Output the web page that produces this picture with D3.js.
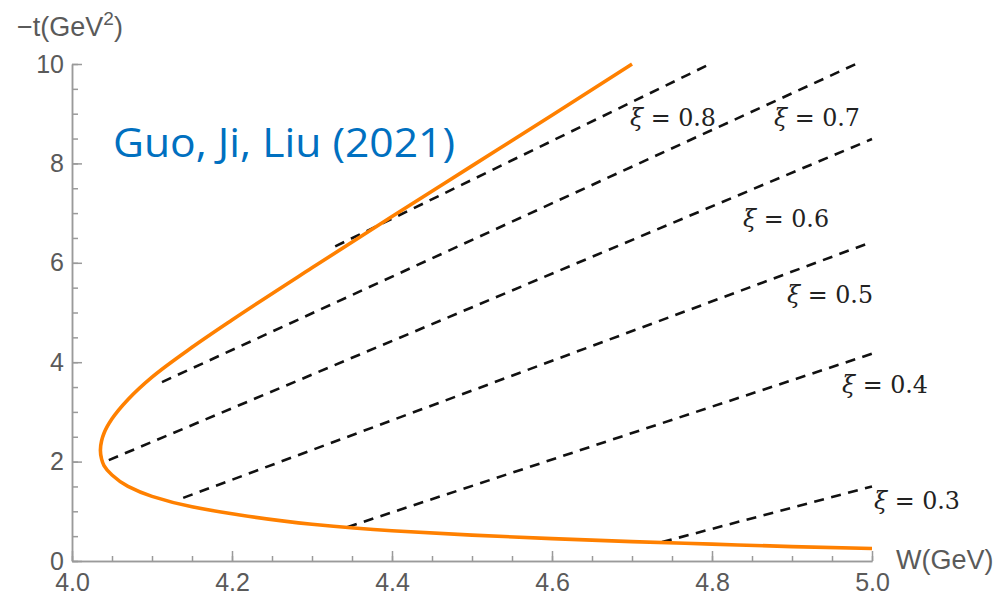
<!DOCTYPE html>
<html>
<head>
<meta charset="utf-8">
<script src="https://cdn.jsdelivr.net/npm/d3@7"></script>
<style>
  body { margin: 0; background: #fff; }
  .axis path, .axis line { stroke: #9a9a9a; stroke-width: 1.5; }
  .axis text { font-family: "Liberation Sans", Arial, sans-serif; font-size: 25px; fill: #5a5a5a; }
</style>
</head>
<body>
<div id="chart"></div>
<script>
// boundary curve, read along the orange line from bottom right, round the vertex, to top
var curveT = [0.25, 0.29, 0.34, 0.39, 0.45, 0.52, 0.61, 0.74, 0.95, 1.09, 1.30, 1.50,
              1.73, 1.92, 2.05, 2.23, 2.42, 2.57, 2.86, 3.25, 3.70, 4.30, 4.85, 5.90, 6.93, 7.95, 8.97, 10.0];
var curveW = [5.00, 4.90, 4.80, 4.70, 4.60, 4.50, 4.40, 4.30, 4.20, 4.15, 4.10, 4.07,
              4.05, 4.04, 4.037, 4.0355, 4.037, 4.04, 4.05, 4.07, 4.10, 4.15, 4.20, 4.30, 4.40, 4.50, 4.60, 4.70];

// constant-xi lines: start and end points
var xiValues = [0.8, 0.7, 0.6, 0.5, 0.4, 0.3];
var xiStartW = [4.329, 4.1125, 4.046, 4.139, 4.344, 4.7375];
var xiStartT = [6.33, 3.60, 2.03, 1.27, 0.68, 0.38];
var xiEndW = [4.7975, 4.98, 5.0, 5.0, 5.0, 5.0];
var xiEndT = [10.0, 10.0, 8.49, 6.42, 4.17, 1.50];
// label anchor (left, baseline) in data units
var xiLabelW = [4.6975, 4.8775, 4.8388, 4.8938, 4.9625, 5.0025];
var xiLabelT = [8.75, 8.75, 6.72, 5.19, 3.38, 1.04];

var xTicks = [4.0, 4.2, 4.4, 4.6, 4.8, 5.0];
var yTicks = [0, 2, 4, 6, 8, 10];

var width = 997, height = 597;

var svg = d3.select("#chart").append("svg")
  .attr("width", width)
  .attr("height", height);

var x = d3.scaleLinear().domain([4.0, 5.0]).range([72, 872]);
var y = d3.scaleLinear().domain([0, 10]).range([561, 64]);

// minor ticks first so major ones sit on top
svg.append("g")
  .attr("class", "axis")
  .attr("transform", "translate(0," + y(0) + ")")
  .call(d3.axisBottom(x).tickValues(d3.range(4.0, 5.001, 0.05)).tickSize(-5).tickSizeOuter(0).tickFormat(""));

svg.append("g")
  .attr("class", "axis")
  .attr("transform", "translate(" + x(4.0) + ",0)")
  .call(d3.axisLeft(y).tickValues(d3.range(0, 10.001, 0.5)).tickSize(-6).tickSizeOuter(0).tickFormat(""));

svg.append("g")
  .attr("class", "axis")
  .attr("transform", "translate(0," + y(0) + ")")
  .call(d3.axisBottom(x).tickValues(xTicks).tickSize(-10).tickSizeOuter(0).tickPadding(12)
    .tickFormat(d3.format(".1f")));

svg.append("g")
  .attr("class", "axis")
  .attr("transform", "translate(" + x(4.0) + ",0)")
  .call(d3.axisLeft(y).tickValues(yTicks).tickSize(-10).tickSizeOuter(0).tickPadding(8));

// dashed xi lines
var lineGen = d3.line()
  .x(function(d) { return x(d[0]); })
  .y(function(d) { return y(d[1]); });

xiValues.forEach(function(v, i) {
  svg.append("path")
    .datum([[xiStartW[i], xiStartT[i]], [xiEndW[i], xiEndT[i]]])
    .attr("d", lineGen)
    .attr("fill", "none")
    .attr("stroke", "#111")
    .attr("stroke-width", 2.6)
    .attr("stroke-dasharray", "10,7.5");
});

// orange boundary (W is single valued in t, so interpolate along y)
var curvePts = curveW.map(function(w, i) { return [w, curveT[i]]; });
svg.append("path")
  .datum(curvePts)
  .attr("d", d3.line()
    .x(function(d) { return x(d[0]); })
    .y(function(d) { return y(d[1]); })
    .curve(d3.curveMonotoneY))
  .attr("fill", "none")
  .attr("stroke", "#ff8000")
  .attr("stroke-width", 3.6);

// xi labels
xiValues.forEach(function(v, i) {
  var t = svg.append("text")
    .attr("x", x(xiLabelW[i]))
    .attr("y", y(xiLabelT[i]))
    .attr("font-family", "'DejaVu Serif', 'Liberation Serif', serif")
    .attr("font-size", 25)
    .attr("fill", "#222")
    .attr("textLength", 86)
    .attr("lengthAdjust", "spacingAndGlyphs");
  t.append("tspan").attr("font-style", "italic").text("ξ");
  t.append("tspan").text(" = " + d3.format(".1f")(v));
});

// axis titles
var yTitle = svg.append("text")
  .attr("x", 17)
  .attr("y", 36)
  .attr("font-family", "'Liberation Sans', Arial, sans-serif")
  .attr("font-size", 27)
  .attr("fill", "#5a5a5a");
yTitle.append("tspan").text("\u2212t(GeV");
yTitle.append("tspan").attr("font-size", 19).attr("dy", -11).text("2");
yTitle.append("tspan").attr("dy", 11).text(")");

svg.append("text")
  .attr("x", 896)
  .attr("y", 569)
  .attr("font-family", "'Liberation Sans', Arial, sans-serif")
  .attr("font-size", 27)
  .attr("fill", "#5a5a5a")
  .text("W(GeV)");

svg.append("text")
  .attr("x", 113)
  .attr("y", 157)
  .attr("font-family", "'Open Sans', 'Noto Sans', sans-serif")
  .attr("font-size", 40)
  .attr("fill", "#0070c0")
  .attr("textLength", 342)
  .attr("lengthAdjust", "spacingAndGlyphs")
  .text("Guo, Ji, Liu (2021)");
</script>
</body>
</html>
